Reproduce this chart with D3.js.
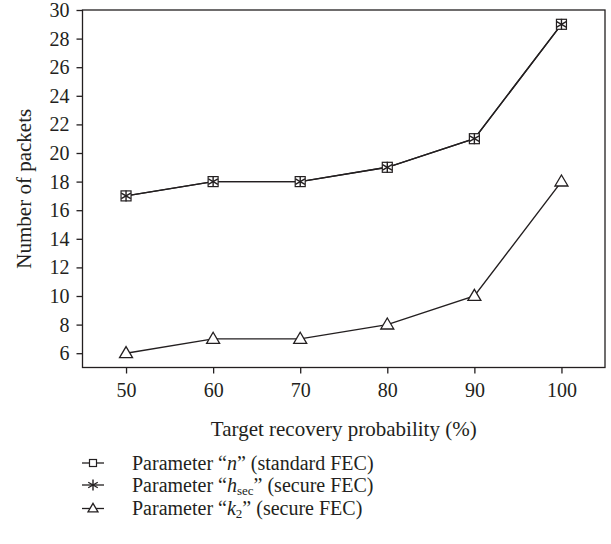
<!DOCTYPE html>
<html>
<head>
<meta charset="utf-8">
<script src="https://cdn.jsdelivr.net/npm/d3@7"></script>
<style>
  body { margin: 0; background: #fff; }
  text { font-family: "Liberation Serif", "DejaVu Serif", serif; fill: #231f20; }
</style>
</head>
<body>
<div id="chart"></div>
<script>
const probabilities = [50, 60, 70, 80, 90, 100];
const nStandard = [17, 18, 18, 19, 21, 29];
const hSecure = [17, 18, 18, 19, 21, 29];
const k2Secure = [6, 7, 7, 8, 10, 18];
const yTicks = [6, 8, 10, 12, 14, 16, 18, 20, 22, 24, 26, 28, 30];

const W = 611, H = 544;
const FRAME = { LEFT: 82.5, RIGHT: 605, TOP: 10, BOTTOM: 367.5 };
const INK = "#231f20";
const FONT = 21;

const svg = d3.select("#chart").append("svg")
  .attr("width", W).attr("height", H);

/** scales */
const x = d3.scaleLinear().domain([45, 105]).range([FRAME.LEFT, FRAME.RIGHT]);
const y = d3.scaleLinear().domain([5, 30]).range([FRAME.BOTTOM, FRAME.TOP]);

/** frame */
svg.append("rect")
  .attr("x", FRAME.LEFT).attr("y", FRAME.TOP)
  .attr("width", FRAME.RIGHT - FRAME.LEFT).attr("height", FRAME.BOTTOM - FRAME.TOP)
  .attr("fill", "none").attr("stroke", INK).attr("stroke-width", 1.3);

/** axes */
const yAxis = svg.append("g")
  .attr("transform", `translate(${FRAME.LEFT},0)`)
  .call(d3.axisLeft(y).tickValues(yTicks).tickSize(6).tickSizeOuter(0).tickPadding(7));

const xAxis = svg.append("g")
  .attr("transform", `translate(0,${FRAME.BOTTOM})`)
  .call(d3.axisBottom(x).tickValues(probabilities).tickSize(6).tickSizeOuter(0).tickPadding(9));

[xAxis, yAxis].forEach((g) => {
  g.select(".domain").remove();
  g.selectAll("line").attr("stroke", INK).attr("stroke-width", 1.3);
  g.selectAll("text").attr("font-size", 20).attr("font-family", null).attr("fill", INK);
});

/** axis titles */
svg.append("text")
  .attr("x", (FRAME.LEFT + FRAME.RIGHT) / 2).attr("y", 436)
  .attr("text-anchor", "middle").attr("font-size", FONT)
  .text("Target recovery probability (%)");

svg.append("text")
  .attr("transform", `translate(31,${(FRAME.TOP + FRAME.BOTTOM) / 2}) rotate(-90)`)
  .attr("text-anchor", "middle").attr("font-size", FONT)
  .text("Number of packets");

/** marker drawing helpers */
function square(g, cx, cy, s) {
  g.append("rect")
    .attr("x", cx - s / 2).attr("y", cy - s / 2).attr("width", s).attr("height", s)
    .attr("fill", "#fff").attr("stroke", INK).attr("stroke-width", 1.2);
}
function asterisk(g, cx, cy, r) {
  [90, 30, 150].forEach((a) => {
    const dx = r * Math.cos(a * Math.PI / 180), dy = r * Math.sin(a * Math.PI / 180);
    g.append("line")
      .attr("x1", cx - dx).attr("y1", cy - dy).attr("x2", cx + dx).attr("y2", cy + dy)
      .attr("stroke", INK).attr("stroke-width", 1.4);
  });
}
function triangle(g, cx, cy, w) {
  const h = w * 0.85;
  g.append("path")
    .attr("d", `M${cx},${cy - h * 0.6}L${cx + w / 2},${cy + h * 0.4}L${cx - w / 2},${cy + h * 0.4}Z`)
    .attr("fill", "#fff").attr("stroke", INK).attr("stroke-width", 1.3);
}

const series = [
  { values: nStandard, marker: (g, cx, cy) => square(g, cx, cy, 10) },
  { values: hSecure, marker: (g, cx, cy) => asterisk(g, cx, cy, 5.5) },
  { values: k2Secure, marker: (g, cx, cy) => triangle(g, cx, cy, 13) },
];

const line = d3.line()
  .x((d, i) => x(probabilities[i]))
  .y((d) => y(d));

series.forEach((s) => {
  svg.append("path")
    .datum(s.values)
    .attr("d", line)
    .attr("fill", "none").attr("stroke", INK).attr("stroke-width", 1.4);
});
series.forEach((s) => {
  const g = svg.append("g");
  s.values.forEach((v, i) => s.marker(g, x(probabilities[i]), y(v)));
});

/** legend */
const legendRows = [
  { y: 463, marker: (g, cx, cy) => square(g, cx, cy, 7), label: [["Parameter \u201c"], ["n", "italic"], ["\u201d (standard FEC)"]] },
  { y: 485, marker: (g, cx, cy) => asterisk(g, cx, cy, 5.5), label: [["Parameter \u201c"], ["h", "italic"], ["sec", "sub"], ["\u201d (secure FEC)"]] },
  { y: 508.5, marker: (g, cx, cy) => triangle(g, cx, cy, 10), label: [["Parameter \u201c"], ["k", "italic"], ["2", "sub"], ["\u201d (secure FEC)"]] },
];

legendRows.forEach((row) => {
  const g = svg.append("g");
  g.append("line")
    .attr("x1", 82).attr("x2", 104).attr("y1", row.y).attr("y2", row.y)
    .attr("stroke", INK).attr("stroke-width", 1.3);
  row.marker(g, 93, row.y);
  const t = g.append("text")
    .attr("x", 132).attr("y", row.y + 6.5)
    .attr("font-size", 20);
  row.label.forEach(([str, style], i) => {
    const span = t.append("tspan").text(str);
    if (style === "italic") span.attr("font-style", "italic");
    if (style === "sub") span.attr("font-size", 13).attr("dy", 3);
    if (i > 0 && row.label[i - 1][1] === "sub") span.attr("dy", -3);
  });
});
</script>
</body>
</html>
